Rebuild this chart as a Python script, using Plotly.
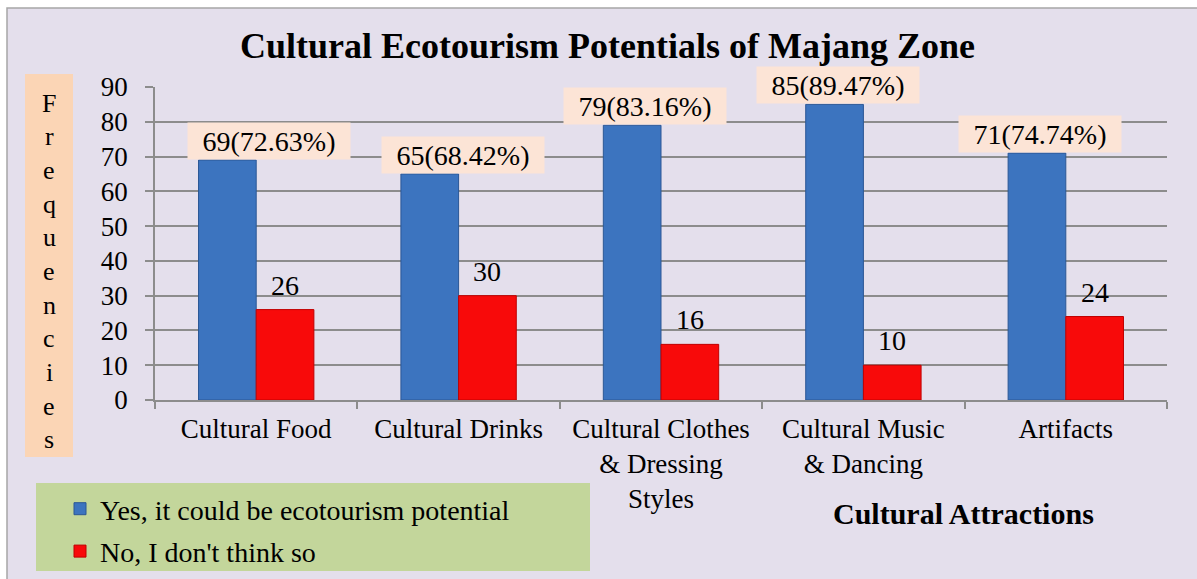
import plotly.graph_objects as go

# ---------------- data ----------------
categories = ["Cultural Food", "Cultural Drinks", "Cultural Clothes<br>& Dressing<br>Styles",
              "Cultural Music<br>& Dancing", "Artifacts"]
yes_values = [69, 65, 79, 85, 71]
yes_percent = [72.63, 68.42, 83.16, 89.47, 74.74]
no_values = [26, 30, 16, 10, 24]
y_ticks = [0, 10, 20, 30, 40, 50, 60, 70, 80, 90]
series_names = ["Yes, it could be ecotourism potential", "No, I don't think so"]
title_text = "Cultural Ecotourism Potentials of Majang Zone"
x_title = "Cultural Attractions"
y_title = "Frequencies"

# ---------------- layout constants ----------------
W, H = 1197, 579
ML, MR, MT, MB = 155, 30, 87, 179
PW, PH = W - ML - MR, H - MT - MB
FONT = "Liberation Serif, Times New Roman, serif"
BARGAP = 0.43
BW = (1 - BARGAP) / 2
label_nudge = [42, 33, 13, 3, 3]  # px horizontal nudges of the blue labels


def px2x(px):
    return (px - ML) / PW


def py2y(py):
    return (H - MB - py) / PH


fig = go.Figure()
fig.add_trace(go.Bar(
    x=categories, y=yes_values, name=series_names[0], legendgroup="yes",
    marker=dict(color="#3C74BF", line=dict(color="#2B5795", width=1)),
))
fig.add_trace(go.Bar(
    x=categories, y=no_values, name=series_names[1], legendgroup="no",
    marker=dict(color="#F80A0A", line=dict(color="#C00000", width=1)),
))

annotations = []
for i, (v, p) in enumerate(zip(yes_values, yes_percent)):
    annotations.append(dict(
        x=i - BW / 2, y=v, xref="x", yref="y", text=f"{v}({p:.2f}%)",
        showarrow=False, xanchor="center", yanchor="bottom", xshift=label_nudge[i],
        bgcolor="#FCE4D6", width=160, height=34, borderpad=1,
        font=dict(family=FONT, size=28, color="black"),
    ))
for i, v in enumerate(no_values):
    annotations.append(dict(
        x=i + BW / 2, y=v, xref="x", yref="y", text=str(v),
        showarrow=False, xanchor="center", yanchor="bottom", yshift=7,
        font=dict(family=FONT, size=28, color="black"),
    ))
# title
annotations.append(dict(
    x=px2x(607), y=py2y(46), xref="paper", yref="paper", text=f"<b>{title_text}</b>",
    showarrow=False, xanchor="center", yanchor="middle",
    font=dict(family=FONT, size=36, color="black"),
))
# x axis title
annotations.append(dict(
    x=px2x(963), y=py2y(513), xref="paper", yref="paper", text=f"<b>{x_title}</b>",
    showarrow=False, xanchor="center", yanchor="middle",
    font=dict(family=FONT, size=30, color="black"),
))
# vertical y title, one letter per line
for k, ch in enumerate(y_title):
    annotations.append(dict(
        x=px2x(49), y=py2y(103 + 33.7 * k), xref="paper", yref="paper", text=ch,
        showarrow=False, xanchor="center", yanchor="middle",
        font=dict(family=FONT, size=26, color="black"),
    ))

shapes = [
    # chart area frame
    dict(type="rect", xref="paper", yref="paper", layer="below",
         x0=px2x(7), x1=px2x(1210), y0=py2y(595), y1=py2y(8),
         fillcolor="#E4DFEC", line=dict(color="#A6A6A6", width=1.5)),
    # y title box
    dict(type="rect", xref="paper", yref="paper", layer="below",
         x0=px2x(25), x1=px2x(73), y0=py2y(457), y1=py2y(74),
         fillcolor="#FBD5B5", line=dict(width=0)),
    # legend box
    dict(type="rect", xref="paper", yref="paper", layer="below",
         x0=px2x(36), x1=px2x(590), y0=py2y(571), y1=py2y(483),
         fillcolor="#C3D69B", line=dict(width=0)),
]

fig.update_layout(
    width=W, height=H,
    margin=dict(l=ML, r=MR, t=MT, b=MB, autoexpand=False),
    paper_bgcolor="white", plot_bgcolor="white",
    barmode="group", bargap=BARGAP, bargroupgap=0,
    font=dict(family=FONT, size=27, color="black"),
    showlegend=True,
    legend=dict(x=px2x(60), y=py2y(484), xanchor="left", yanchor="top",
                bgcolor="rgba(0,0,0,0)", font=dict(family=FONT, size=28, color="black"),
                tracegroupgap=3),
    annotations=annotations,
    shapes=shapes,
)
fig.update_xaxes(
    type="category", tickson="boundaries", ticks="outside", ticklen=7,
    tickcolor="#8C8C8C", tickwidth=1.5, showline=True, linecolor="#8C8C8C", linewidth=1.5,
    showgrid=False, ticklabelstandoff=4, automargin=False,
    tickfont=dict(family=FONT, size=27, color="black"),
)
fig.update_yaxes(
    range=[0, 90], tickvals=y_ticks, ticks="outside", ticklen=8, tickcolor="#8C8C8C",
    tickwidth=1.5, showline=True, linecolor="#8C8C8C", linewidth=1.5,
    showgrid=True, gridcolor="#8C8C8C", gridwidth=1.5, zeroline=False, automargin=False,
    ticklabelstandoff=12, tickfont=dict(family=FONT, size=27, color="black"),
)

fig.write_html("out.html")
